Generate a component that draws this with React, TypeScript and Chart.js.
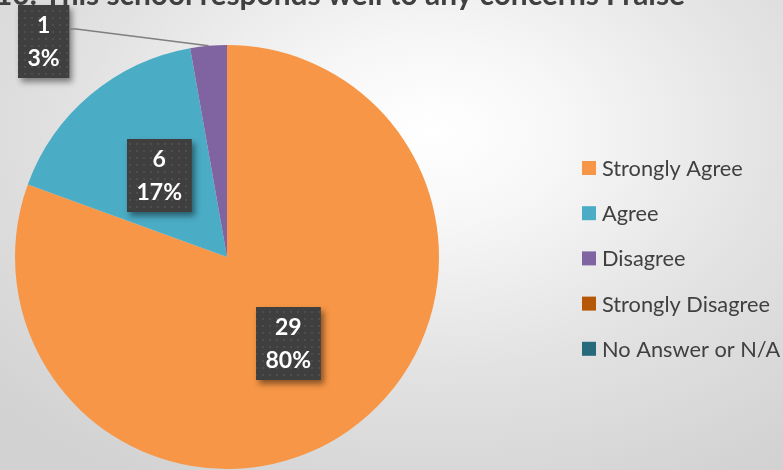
import React, { useEffect, useRef } from "react";
import { Chart, registerables } from "chart.js";

Chart.register(...registerables);

const TITLE = "10. This school responds well to any concerns I raise";
const categories = ["Strongly Agree", "Agree", "Disagree", "Strongly Disagree", "No Answer or N/A"];
const counts = [29, 6, 1, 0, 0];
const percents = [80, 17, 3, 0, 0];
const colors = ["#F79646", "#4BACC6", "#8064A2", "#B65708", "#276A7C"];

const FONT = "Lato, 'Open Sans', sans-serif";

function makePattern(ctx: CanvasRenderingContext2D) {
  const c = document.createElement("canvas");
  c.width = 7;
  c.height = 7;
  const p = c.getContext("2d")!;
  p.fillStyle = "#3f3f3f";
  p.fillRect(0, 0, 7, 7);
  p.fillStyle = "#4e4e4e";
  p.fillRect(3, 3, 2, 2);
  return ctx.createPattern(c, "repeat");
}

function drawBox(ctx: CanvasRenderingContext2D, cx: number, cy: number, lines: string[]) {
  ctx.save();
  ctx.font = `bold 23px ${FONT}`;
  const tw = Math.max(...lines.map((l) => ctx.measureText(l).width));
  const w = tw + 19;
  const h = 73;
  const x0 = Math.round(cx - w / 2);
  const y0 = Math.round(cy - h / 2);
  ctx.shadowColor = "rgba(0,0,0,0.45)";
  ctx.shadowBlur = 6;
  ctx.shadowOffsetX = 3;
  ctx.shadowOffsetY = 4;
  ctx.fillStyle = "#3f3f3f";
  ctx.fillRect(x0, y0, w, h);
  ctx.shadowColor = "transparent";
  ctx.fillStyle = makePattern(ctx) as any;
  ctx.fillRect(x0, y0, w, h);
  ctx.fillStyle = "#ffffff";
  ctx.textAlign = "center";
  ctx.textBaseline = "middle";
  ctx.fillText(lines[0], x0 + w / 2, y0 + 21);
  ctx.fillText(lines[1], x0 + w / 2, y0 + 54);
  ctx.restore();
  return { x0, y0, w, h };
}

const labelPlugin = {
  id: "boxLabels",
  afterDatasetsDraw(chart: any) {
    const ctx: CanvasRenderingContext2D = chart.ctx;
    const meta = chart.getDatasetMeta(0);
    meta.data.forEach((arc: any, i: number) => {
      const v = counts[i];
      if (!v) return;
      const { x, y, startAngle, endAngle, outerRadius } = arc.getProps(
        ["x", "y", "startAngle", "endAngle", "outerRadius"],
        true
      );
      const mid = (startAngle + endAngle) / 2;
      const frac = (endAngle - startAngle) / (Math.PI * 2);
      const lines = [String(v), percents[i] + "%"];
      if (frac > 0.05) {
        const r = outerRadius * 0.5;
        drawBox(ctx, x + Math.cos(mid) * r, y + Math.sin(mid) * r, lines);
      } else {
        const ax = x + Math.cos(mid) * outerRadius;
        const ay = y + Math.sin(mid) * outerRadius;
        const b = drawBox(ctx, ax - 165, ay - 4, lines);
        ctx.save();
        ctx.strokeStyle = "#7f7f7f";
        ctx.lineWidth = 1.5;
        ctx.beginPath();
        ctx.moveTo(b.x0 + b.w, b.y0 + 24);
        ctx.lineTo(b.x0 + b.w + 7, b.y0 + 24);
        ctx.lineTo(ax, ay);
        ctx.stroke();
        ctx.restore();
      }
    });
  },
  afterDraw(chart: any) {
    const ctx: CanvasRenderingContext2D = chart.ctx;
    ctx.save();
    // title
    let size = 26;
    ctx.font = `bold ${size}px ${FONT}`;
    const tw = ctx.measureText(TITLE).width;
    size = size * (690 / tw);
    ctx.font = `bold ${size}px ${FONT}`;
    ctx.fillStyle = "#404040";
    ctx.textAlign = "center";
    ctx.textBaseline = "alphabetic";
    ctx.fillText(TITLE, 340, 5);
    // legend
    let ls = 20;
    ctx.font = `${ls}px ${FONT}`;
    ls = ls * (141 / ctx.measureText(categories[0]).width);
    ctx.font = `${ls}px ${FONT}`;
    ctx.textAlign = "left";
    ctx.textBaseline = "middle";
    categories.forEach((c, i) => {
      const cy = 168 + i * 45.2;
      ctx.fillStyle = colors[i];
      ctx.fillRect(582, cy - 7, 14, 14);
      ctx.fillStyle = "#404040";
      ctx.fillText(c, 602, cy + 1);
    });
    ctx.restore();
  },
};

export default function App() {
  const ref = useRef<HTMLCanvasElement>(null);
  useEffect(() => {
    const chart = new Chart(ref.current!, {
      type: "pie",
      data: {
        labels: categories,
        datasets: [
          {
            data: counts,
            backgroundColor: colors,
            borderWidth: 0,
          },
        ],
      },
      options: {
        animation: false,
        responsive: false,
        layout: { padding: { left: 15, right: 344, top: 45, bottom: 1 } },
        plugins: {
          legend: { display: false },
          title: { display: false },
          tooltip: { enabled: false },
        },
      },
      plugins: [labelPlugin],
    });
    return () => chart.destroy();
  }, []);
  return (
    <div
      style={{
        position: "fixed",
        left: 0,
        top: 0,
        width: 783,
        height: 470,
        background:
          "radial-gradient(ellipse 75% 85% at 55% 28%, #ffffff 0%, #f7f7f7 22%, #e2e2e2 60%, #d2d2d2 100%)",
      }}
    >
      <canvas ref={ref} width={783} height={470} style={{ display: "block" }} />
    </div>
  );
}
